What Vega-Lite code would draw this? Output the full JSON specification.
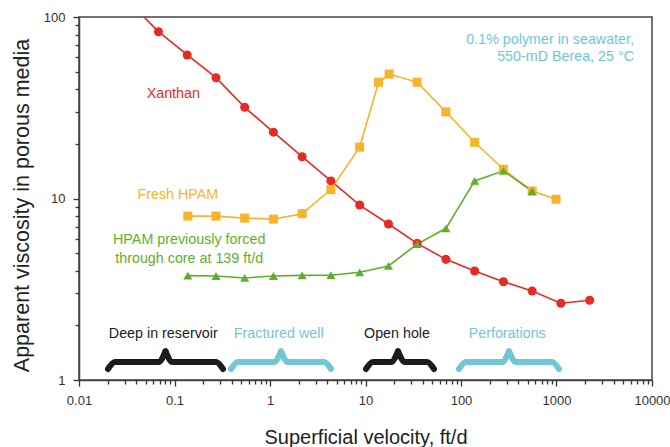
{
  "$schema": "https://vega.github.io/schema/vega-lite/v6.json",
  "width": 573,
  "height": 363,
  "autosize": {"type": "none"},
  "padding": {"left": 79, "top": 17, "right": 18, "bottom": 67},
  "background": "white",
  "config": {
    "view": {"stroke": "#444444", "strokeWidth": 1.5},
    "axis": {
      "labelFont": "Liberation Sans",
      "titleFont": "Liberation Sans",
      "labelColor": "#333333",
      "titleColor": "#222222",
      "ticks": true,
      "tickColor": "#333333",
      "tickOpacity": 1,
      "domainColor": "#444444",
      "domainWidth": 1.5,
      "tickWidth": 1.3,
      "grid": false,
      "labelFlush": false,
      "labelOverlap": false,
      "titleFontWeight": "normal"
    },
    "text": {"font": "Liberation Sans"}
  },
  "datasets": {
    "series": [
      {"v": 0.034, "mu": 120, "g": "Xanthan"},
      {"v": 0.0679, "mu": 83, "g": "Xanthan"},
      {"v": 0.136, "mu": 61.8, "g": "Xanthan"},
      {"v": 0.272, "mu": 46.3, "g": "Xanthan"},
      {"v": 0.543, "mu": 31.8, "g": "Xanthan"},
      {"v": 1.086, "mu": 23.2, "g": "Xanthan"},
      {"v": 2.17, "mu": 17.0, "g": "Xanthan"},
      {"v": 4.34, "mu": 12.5, "g": "Xanthan"},
      {"v": 8.69, "mu": 9.2, "g": "Xanthan"},
      {"v": 17.4, "mu": 7.24, "g": "Xanthan"},
      {"v": 34.75, "mu": 5.66, "g": "Xanthan"},
      {"v": 69.5, "mu": 4.62, "g": "Xanthan"},
      {"v": 139, "mu": 3.99, "g": "Xanthan"},
      {"v": 278, "mu": 3.48, "g": "Xanthan"},
      {"v": 556, "mu": 3.09, "g": "Xanthan"},
      {"v": 1112, "mu": 2.65, "g": "Xanthan"},
      {"v": 2224, "mu": 2.75, "g": "Xanthan"},
      {"v": 0.138, "mu": 8.0, "g": "Fresh HPAM"},
      {"v": 0.272, "mu": 8.0, "g": "Fresh HPAM"},
      {"v": 0.543, "mu": 7.8, "g": "Fresh HPAM"},
      {"v": 1.086, "mu": 7.7, "g": "Fresh HPAM"},
      {"v": 2.17, "mu": 8.25, "g": "Fresh HPAM"},
      {"v": 4.34, "mu": 11.2, "g": "Fresh HPAM"},
      {"v": 8.69, "mu": 19.2, "g": "Fresh HPAM"},
      {"v": 13.7, "mu": 43.7, "g": "Fresh HPAM"},
      {"v": 17.7, "mu": 48.5, "g": "Fresh HPAM"},
      {"v": 34.75, "mu": 43.7, "g": "Fresh HPAM"},
      {"v": 69.5, "mu": 30.0, "g": "Fresh HPAM"},
      {"v": 139, "mu": 20.4, "g": "Fresh HPAM"},
      {"v": 278, "mu": 14.5, "g": "Fresh HPAM"},
      {"v": 556, "mu": 11.0, "g": "Fresh HPAM"},
      {"v": 988, "mu": 9.9, "g": "Fresh HPAM"},
      {"v": 0.138, "mu": 3.76, "g": "Forced"},
      {"v": 0.272, "mu": 3.74, "g": "Forced"},
      {"v": 0.543, "mu": 3.65, "g": "Forced"},
      {"v": 1.086, "mu": 3.74, "g": "Forced"},
      {"v": 2.17, "mu": 3.77, "g": "Forced"},
      {"v": 4.34, "mu": 3.78, "g": "Forced"},
      {"v": 8.69, "mu": 3.92, "g": "Forced"},
      {"v": 17.4, "mu": 4.25, "g": "Forced"},
      {"v": 34.75, "mu": 5.61, "g": "Forced"},
      {"v": 69.5, "mu": 6.85, "g": "Forced"},
      {"v": 139, "mu": 12.5, "g": "Forced"},
      {"v": 278, "mu": 14.2, "g": "Forced"},
      {"v": 556, "mu": 10.96, "g": "Forced"}
    ],
    "braces": [
      {"v": 0.02012, "mu": 1.15, "part": "b1L", "g": "black"},
      {"v": 0.02382, "mu": 1.2566, "part": "b1L", "g": "black"},
      {"v": 0.06799, "mu": 1.2566, "part": "b1L", "g": "black"},
      {"v": 0.0805, "mu": 1.44, "part": "b1L", "g": "black"},
      {"v": 0.0805, "mu": 1.44, "part": "b1R", "g": "black"},
      {"v": 0.09529, "mu": 1.2566, "part": "b1R", "g": "black"},
      {"v": 0.272, "mu": 1.2566, "part": "b1R", "g": "black"},
      {"v": 0.322, "mu": 1.15, "part": "b1R", "g": "black"},
      {"v": 0.3905, "mu": 1.15, "part": "b2L", "g": "cyan"},
      {"v": 0.4623, "mu": 1.2566, "part": "b2L", "g": "cyan"},
      {"v": 1.1012, "mu": 1.2566, "part": "b2L", "g": "cyan"},
      {"v": 1.304, "mu": 1.44, "part": "b2L", "g": "cyan"},
      {"v": 1.304, "mu": 1.44, "part": "b2R", "g": "cyan"},
      {"v": 1.5434, "mu": 1.2566, "part": "b2R", "g": "cyan"},
      {"v": 3.677, "mu": 1.2566, "part": "b2R", "g": "cyan"},
      {"v": 4.352, "mu": 1.15, "part": "b2R", "g": "cyan"},
      {"v": 10.12, "mu": 1.15, "part": "b3L", "g": "black"},
      {"v": 11.98, "mu": 1.2566, "part": "b3L", "g": "black"},
      {"v": 18.49, "mu": 1.2566, "part": "b3L", "g": "black"},
      {"v": 21.89, "mu": 1.44, "part": "b3L", "g": "black"},
      {"v": 21.89, "mu": 1.44, "part": "b3R", "g": "black"},
      {"v": 25.92, "mu": 1.2566, "part": "b3R", "g": "black"},
      {"v": 44.05, "mu": 1.2566, "part": "b3R", "g": "black"},
      {"v": 52.15, "mu": 1.15, "part": "b3R", "g": "black"},
      {"v": 95.29, "mu": 1.15, "part": "b4L", "g": "cyan"},
      {"v": 112.8, "mu": 1.2566, "part": "b4L", "g": "cyan"},
      {"v": 268.7, "mu": 1.2566, "part": "b4L", "g": "cyan"},
      {"v": 318.1, "mu": 1.44, "part": "b4L", "g": "cyan"},
      {"v": 318.1, "mu": 1.44, "part": "b4R", "g": "cyan"},
      {"v": 376.6, "mu": 1.2566, "part": "b4R", "g": "cyan"},
      {"v": 897, "mu": 1.2566, "part": "b4R", "g": "cyan"},
      {"v": 1062, "mu": 1.15, "part": "b4R", "g": "cyan"}
    ],
    "labels": [
      {"v": 0.0971, "mu": 35.8, "t": "Xanthan", "g": "Xanthan"},
      {"v": 0.1083, "mu": 9.94, "t": "Fresh HPAM", "g": "Fresh HPAM"},
      {"v": 0.1425, "mu": 5.595, "t": "HPAM previously forced\nthrough core at 139 ft/d", "g": "Forced"},
      {"v": 0.0763, "mu": 1.697, "t": "Deep in reservoir", "g": "black"},
      {"v": 1.233, "mu": 1.697, "t": "Fractured well", "g": "cyan"},
      {"v": 21.37, "mu": 1.697, "t": "Open hole", "g": "black"},
      {"v": 304.7, "mu": 1.697, "t": "Perforations", "g": "cyan"}
    ],
    "note": [
      {"v": 6478, "mu": 71.0, "t": "0.1% polymer in seawater,\n550-mD Berea, 25 °C", "g": "cyan"}
    ]
  },
  "layer": [
    {
      "data": {"name": "series"},
      "mark": {"type": "line", "strokeWidth": 1.6, "clip": true},
      "encoding": {
        "x": {
          "field": "v", "type": "quantitative",
          "scale": {"type": "log", "domain": [0.01, 10000], "nice": false},
          "axis": {
            "orient": "bottom",
            "values": [0.01, 0.1, 1, 10, 100, 1000, 10000],
            "labelExpr": "datum.value < 1 ? format(datum.value, '.2~f') : format(datum.value, 'd')",
            "ticks": true, "tickSize": 6, "labelPadding": 8, "labelFontSize": 13,
            "title": "Superficial velocity, ft/d",
            "titleFontSize": 20, "titleY": 63, "titleBaseline": "alphabetic"
          }
        },
        "y": {
          "field": "mu", "type": "quantitative",
          "scale": {"type": "log", "domain": [1, 100], "nice": false},
          "axis": {
            "orient": "left",
            "values": [1, 10, 100],
            "labelExpr": "format(datum.value, 'd')",
            "ticks": true, "tickSize": 6, "labelPadding": 8, "labelFontSize": 13,
            "title": "Apparent viscosity in porous media",
            "titleFontSize": 21.5, "titleX": -51, "titleY": 188,
            "titleAngle": -90, "titleAlign": "center", "titleBaseline": "alphabetic"
          }
        },
        "detail": {"field": "g"},
        "color": {
          "field": "g", "type": "nominal", "legend": null,
          "scale": {
            "domain": ["Xanthan", "Fresh HPAM", "Forced", "cyan", "black"],
            "range": ["#e62b25", "#f8b42a", "#62ae2c", "#72c6d5", "#1c1c1c"]
          }
        }
      }
    },
    {
      "data": {"name": "series"},
      "mark": {"type": "point", "filled": true, "opacity": 1, "clip": true},
      "encoding": {
        "x": {
          "field": "v", "type": "quantitative",
          "scale": {"type": "log", "domain": [0.01, 10000], "nice": false},
          "axis": {
            "orient": "bottom",
            "values": [0.02,0.03,0.04,0.05,0.06,0.07,0.08,0.09,0.2,0.3,0.4,0.5,0.6,0.7,0.8,0.9,2,3,4,5,6,7,8,9,20,30,40,50,60,70,80,90,200,300,400,500,600,700,800,900,2000,3000,4000,5000,6000,7000,8000,9000],
            "labels": false, "domain": false, "ticks": true, "tickSize": 4, "title": null
          }
        },
        "y": {
          "field": "mu", "type": "quantitative",
          "scale": {"type": "log", "domain": [1, 100], "nice": false},
          "axis": null
        },
        "color": {"field": "g", "type": "nominal", "legend": null},
        "shape": {
          "field": "g", "type": "nominal", "legend": null,
          "scale": {"domain": ["Xanthan", "Fresh HPAM", "Forced"], "range": ["circle", "square", "triangle-up"]}
        },
        "size": {"value": 82}
      }
    },
    {
      "data": {"name": "braces"},
      "mark": {"type": "line", "interpolate": "monotone", "strokeWidth": 6, "strokeCap": "round", "strokeJoin": "round"},
      "encoding": {
        "x": {"field": "v", "type": "quantitative", "scale": {"type": "log"}, "axis": null},
        "y": {
          "field": "mu", "type": "quantitative", "scale": {"type": "log"},
          "axis": {
            "orient": "left",
            "values": [2,3,4,5,6,7,8,9,20,30,40,50,60,70,80,90],
            "labels": false, "domain": false, "ticks": true, "tickSize": 4, "title": null
          }
        },
        "detail": {"field": "part"},
        "color": {"field": "g", "type": "nominal", "legend": null}
      }
    },
    {
      "data": {"name": "labels"},
      "mark": {"type": "text", "align": "center", "baseline": "alphabetic", "fontSize": 14.3, "lineBreak": "\n", "lineHeight": 18.4},
      "encoding": {
        "x": {"field": "v", "type": "quantitative", "scale": {"type": "log"}, "axis": null},
        "y": {"field": "mu", "type": "quantitative", "scale": {"type": "log"}, "axis": null},
        "text": {"field": "t"},
        "color": {"field": "g", "type": "nominal", "legend": null}
      }
    },
    {
      "data": {"name": "note"},
      "mark": {"type": "text", "align": "right", "baseline": "alphabetic", "fontSize": 14.3, "lineBreak": "\n", "lineHeight": 17.5},
      "encoding": {
        "x": {"field": "v", "type": "quantitative", "scale": {"type": "log"}, "axis": null},
        "y": {"field": "mu", "type": "quantitative", "scale": {"type": "log"}, "axis": null},
        "text": {"field": "t"},
        "color": {"field": "g", "type": "nominal", "legend": null}
      }
    }
  ],
  "resolve": {"axis": {"x": "independent", "y": "independent"}}
}
